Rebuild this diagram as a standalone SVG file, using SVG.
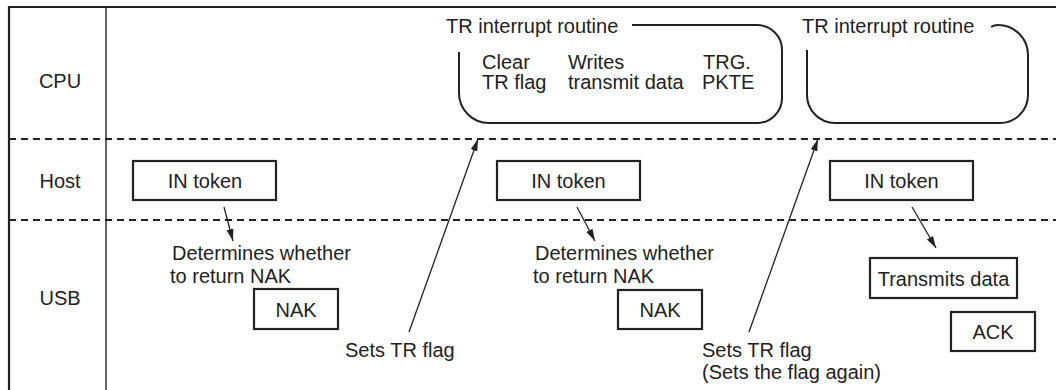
<svg xmlns="http://www.w3.org/2000/svg" width="1056" height="390" viewBox="0 0 1056 390">
<style>
text{font-family:"Liberation Sans",Arial,sans-serif;font-size:20px;fill:#222}
.box{fill:#fff;stroke:#222;stroke-width:2.2}
.frame{stroke:#222;fill:none}
.dash{stroke:#222;stroke-width:2;stroke-dasharray:7 5;fill:none}
.rt{fill:none;stroke:#222;stroke-width:2}
.c{stroke:#222;stroke-width:1.3;fill:none}
.m{text-anchor:middle}
</style>
<defs>
<marker id="ah" markerUnits="userSpaceOnUse" markerWidth="12" markerHeight="8" refX="12" refY="3.5" orient="auto">
<path d="M0,0 L12,3.5 L0,7 z" fill="#222"/>
</marker>
</defs>
<g id="frame">
<line class="frame" x1="9" y1="7" x2="1056" y2="7" stroke-width="2.2"/>
<line class="frame" x1="9" y1="6" x2="9" y2="390" stroke-width="2.2"/>
<line class="frame" x1="106" y1="7" x2="106" y2="390" stroke-width="1.4"/>
<line class="dash" x1="9" y1="139" x2="1056" y2="139"/>
<line class="dash" x1="9" y1="220" x2="1056" y2="220"/>
<text class="m" x="60" y="88">CPU</text>
<text class="m" x="60" y="188">Host</text>
<text class="m" x="60" y="305">USB</text>
</g>
<g id="routine1">
<path class="rt" d="M459,52 L459,93 A30,30 0 0 0 489,123 L757,123 A25,25 0 0 0 782,98 L782,50 A25,25 0 0 0 757,25 L632,25"/>
<text x="446" y="33">TR interrupt routine</text>
<text x="482" y="69">Clear</text>
<text x="482" y="89">TR flag</text>
<text x="568" y="69">Writes</text>
<text x="568" y="89">transmit data</text>
<text x="703" y="69">TRG.</text>
<text x="702" y="89">PKTE</text>
</g>
<g id="routine2">
<path class="rt" d="M807,50 L807,95 A28,28 0 0 0 835,123 L1000,123 A28,28 0 0 0 1028,95 L1028,55 A30,30 0 0 0 998,25 Q994,25 991,27"/>
<text x="802" y="33">TR interrupt routine</text>
</g>
<g id="in1">
<rect class="box" x="133" y="161" width="143" height="39"/>
<text class="m" x="205" y="188">IN token</text>
</g>
<g id="in2">
<rect class="box" x="497" y="161" width="143" height="39"/>
<text class="m" x="568.5" y="188">IN token</text>
</g>
<g id="in3">
<rect class="box" x="830" y="161" width="143" height="39"/>
<text class="m" x="901.5" y="188">IN token</text>
</g>
<g id="det1">
<text x="172" y="260">Determines whether</text>
<text x="170" y="283">to return NAK</text>
</g>
<g id="det2">
<text x="535" y="260">Determines whether</text>
<text x="533" y="283">to return NAK</text>
</g>
<g id="nak1">
<rect class="box" x="254" y="289" width="84" height="40"/>
<text class="m" x="296" y="317">NAK</text>
</g>
<g id="nak2">
<rect class="box" x="618" y="290" width="84" height="39"/>
<text class="m" x="660" y="317">NAK</text>
</g>
<g id="tx">
<rect class="box" x="870" y="258" width="147" height="40"/>
<text class="m" x="943.5" y="286">Transmits data</text>
</g>
<g id="ack">
<rect class="box" x="951" y="312" width="84" height="39"/>
<text class="m" x="993" y="339">ACK</text>
</g>
<g id="set1">
<text x="345" y="357">Sets TR flag</text>
</g>
<g id="set2">
<text x="702" y="357">Sets TR flag</text>
<text x="702" y="379">(Sets the flag again)</text>
</g>
<g id="connectors">
<line class="c" x1="224" y1="207" x2="233" y2="241" marker-end="url(#ah)"/>
<line class="c" x1="577" y1="207" x2="595" y2="241" marker-end="url(#ah)"/>
<line class="c" x1="912" y1="207" x2="936" y2="248" marker-end="url(#ah)"/>
<line class="c" x1="409" y1="332" x2="478" y2="139" marker-end="url(#ah)"/>
<line class="c" x1="749" y1="332" x2="818" y2="139" marker-end="url(#ah)"/>
</g>
</svg>
